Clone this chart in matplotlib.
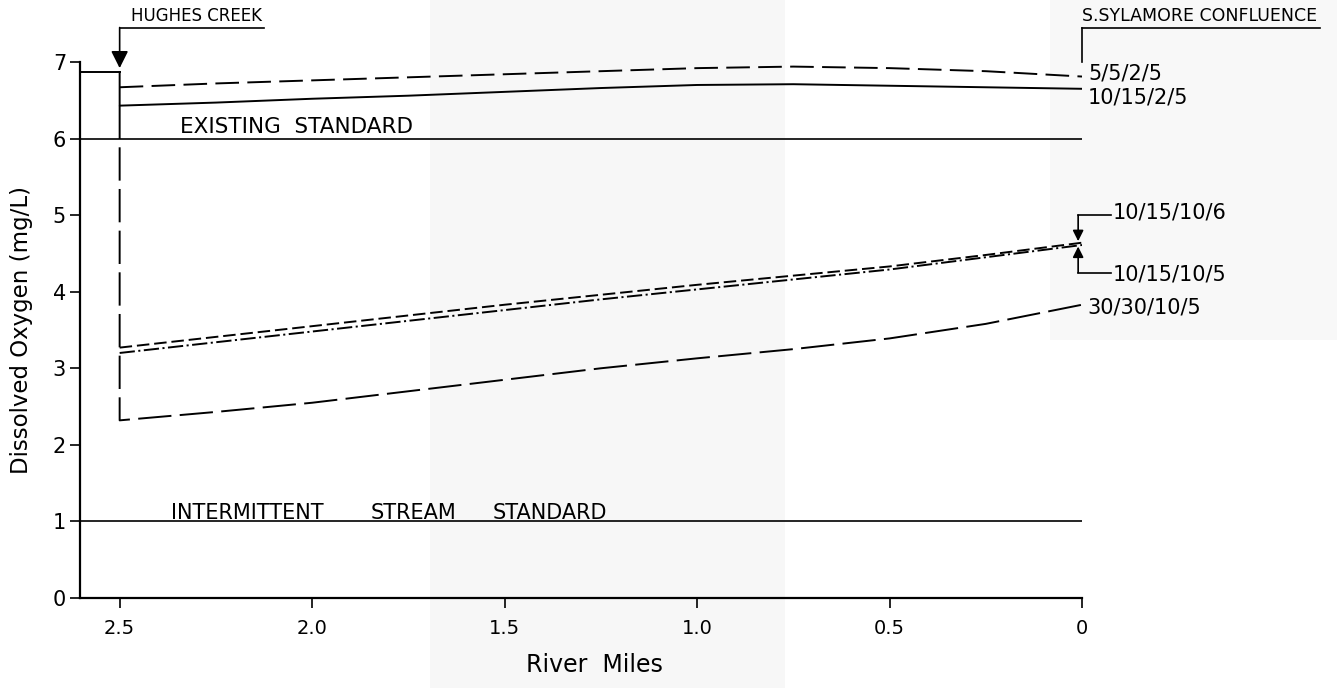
import numpy as np
import matplotlib
matplotlib.use("Agg")
import matplotlib.pyplot as plt
from matplotlib.patches import Rectangle

plt.rcParams['font.family'] = ['DejaVu Sans']
plt.rcParams['lines.scale_dashes'] = False

# River miles above the S. Sylamore confluence
miles = [2.5, 2.25, 2.0, 1.75, 1.5, 1.25, 1.0, 0.75, 0.5, 0.25, 0.0]
upstream_miles = [2.603, 2.5]
upstream_do = 6.87

# Dissolved oxygen (mg/L) for each effluent scenario
do_5_5_2_5 = [6.67, 6.72, 6.76, 6.80, 6.84, 6.88, 6.92, 6.94, 6.92, 6.88, 6.81]
do_10_15_2_5 = [6.43, 6.47, 6.52, 6.56, 6.61, 6.66, 6.70, 6.71, 6.69, 6.67, 6.65]
do_10_15_10_6 = [3.27, 3.41, 3.55, 3.69, 3.83, 3.96, 4.09, 4.21, 4.33, 4.48, 4.64]
do_10_15_10_5 = [3.20, 3.34, 3.48, 3.62, 3.76, 3.90, 4.03, 4.16, 4.29, 4.45, 4.61]
do_30_30_10_5 = [2.32, 2.43, 2.55, 2.70, 2.85, 3.00, 3.13, 3.25, 3.39, 3.58, 3.83]

existing_standard = 6.0
intermittent_standard = 1.0

x_ticks = [2.5, 2.0, 1.5, 1.0, 0.5, 0.0]
x_tick_labels = ["2.5", "2.0", "1.5", "1.0", "0.5", "0"]
y_ticks = [0, 1, 2, 3, 4, 5, 6, 7]

fig = plt.figure(figsize=(13.37, 6.88), dpi=100)

# light scanner haze behind the plot
fig.patches.append(Rectangle((430 / 1337, 0), 355 / 1337, 1, transform=fig.transFigure,
                             facecolor="#f7f7f7", edgecolor="none", zorder=-5))
fig.patches.append(Rectangle((1050 / 1337, 1 - 340 / 688), 287 / 1337, 340 / 688,
                             transform=fig.transFigure, facecolor="#f8f8f8",
                             edgecolor="none", zorder=-5))

ax = fig.add_axes([80 / 1337, 90 / 688, 1002 / 1337, 536 / 688])
ax.patch.set_alpha(0)

lw = 1.4
# upstream reach, then the drop at Hughes Creek
ax.plot(upstream_miles, [upstream_do, upstream_do], color="k", lw=lw)
ax.plot([2.5] + miles, [upstream_do] + do_10_15_2_5, color="k", lw=lw)
ax.plot([2.5] + miles, [do_10_15_2_5[0]] + do_30_30_10_5, color="k", lw=lw,
        dashes=(24, 6))
ax.plot(miles, do_5_5_2_5, color="k", lw=lw, dashes=(17, 6))
ax.plot(miles, do_10_15_10_6, color="k", lw=lw, dashes=(9, 3.5))
ax.plot(miles, do_10_15_10_5, color="k", lw=lw, dashes=(11, 2.5, 1.5, 2.5))

ax.plot([2.603, 0], [existing_standard] * 2, color="k", lw=1.2)
ax.plot([2.603, 0], [intermittent_standard] * 2, color="k", lw=1.2)

ax.text(2.342, 6.15, "EXISTING  STANDARD", fontsize=15.5, va="center")
ax.text(2.367, 1.11, "INTERMITTENT", fontsize=15, va="center")
ax.text(1.848, 1.11, "STREAM", fontsize=15, va="center")
ax.text(1.530, 1.11, "STANDARD", fontsize=15, va="center")

# scenario labels at the confluence
lab = dict(fontsize=15, va="center", clip_on=False)
ax.text(-0.016, 6.85, "5/5/2/5", **lab)
ax.text(-0.016, 6.54, "10/15/2/5", **lab)
ax.text(-0.08, 5.03, "10/15/10/6", **lab)
ax.text(-0.08, 4.22, "10/15/10/5", **lab)
ax.text(-0.013, 3.79, "30/30/10/5", **lab)

ax.plot([0.01, -0.075], [5.0, 5.0], color="k", lw=1.2, clip_on=False)
ax.plot([0.01, -0.075], [4.25, 4.25], color="k", lw=1.2, clip_on=False)
arrow = dict(arrowstyle="-|>", color="k", lw=1.2, mutation_scale=16, shrinkA=0, shrinkB=0)
ax.annotate("", xy=(0.01, do_10_15_10_6[-1] + 0.02), xytext=(0.01, 5.0), arrowprops=arrow,
            annotation_clip=False)
ax.annotate("", xy=(0.01, do_10_15_10_5[-1] - 0.02), xytext=(0.01, 4.25), arrowprops=arrow,
            annotation_clip=False)

# Hughes Creek inflow marker
ax.text(2.47, 7.6, "HUGHES CREEK", fontsize=12, va="center", clip_on=False)
ax.plot([2.5, 2.126], [7.45, 7.45], color="k", lw=1.2, clip_on=False)
ax.annotate("", xy=(2.5, 6.92), xytext=(2.5, 7.45),
            arrowprops=dict(arrowstyle="-|>", color="k", lw=1.2, mutation_scale=26,
                            shrinkA=0, shrinkB=0), annotation_clip=False)

# S. Sylamore confluence marker
ax.text(0.0, 7.6, "S.SYLAMORE CONFLUENCE", fontsize=12.5, va="center", clip_on=False)
ax.plot([0.0, -0.618], [7.45, 7.45], color="k", lw=1.2, clip_on=False)
ax.plot([0.0, 0.0], [7.45, 7.0], color="k", lw=1.2, clip_on=False)

ax.set_xlim(2.603, 0)
ax.set_ylim(0, 7)
ax.set_xticks(x_ticks)
ax.set_xticklabels(x_tick_labels)
ax.set_yticks(y_ticks)
ax.tick_params(axis="both", direction="out", length=7, width=1.2, labelsize=14, pad=8)
ax.tick_params(axis="y", labelsize=15, pad=3)
for side in ["top", "right"]:
    ax.spines[side].set_visible(False)
for side in ["left", "bottom"]:
    ax.spines[side].set_linewidth(1.6)

fig.text(22 / 1337, 1 - 330 / 688, "Dissolved Oxygen (mg/L)", rotation=90,
         fontsize=16.5, ha="center", va="center")
fig.text(594 / 1337, 1 - 665 / 688, "River  Miles", fontsize=17, ha="center", va="center")

fig.savefig("out.png", dpi=100, facecolor="white")
